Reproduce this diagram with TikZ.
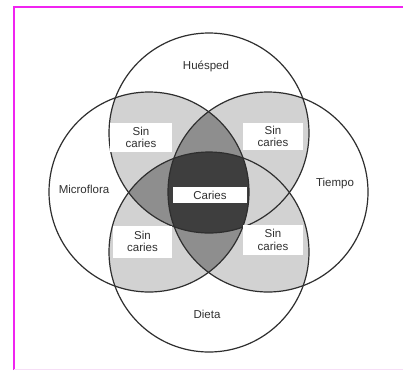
\documentclass[tikz,border=0pt]{standalone}
\usepackage{fontspec}
\setmainfont{Liberation Sans}
\definecolor{linecol}{HTML}{2E2E2E}
\definecolor{textcol}{HTML}{303030}
\definecolor{lightg}{HTML}{D2D2D2}
\definecolor{midg}{HTML}{8E8E8E}
\definecolor{darkg}{HTML}{3E3E3E}
\definecolor{pinkb}{HTML}{F024F0}
\definecolor{pinkf}{HTML}{F6DDF6}
\begin{document}
\begin{tikzpicture}[x=1pt,y=-1pt,
  ring/.style={draw=linecol, line width=1.2pt},
  lbl/.style={font=\fontsize{11.5}{12.5}\selectfont, text=textcol, inner sep=0pt},
  sinbox/.style={lbl, fill=white, align=center},
  frameline/.style={draw=pinkb, line width=2pt}]
\useasboundingbox (0,0) rectangle (403,370);
\fill[white] (0,0) rectangle (403,370);
% centres
\coordinate (H) at (209,133);
\coordinate (D) at (209,252);
\coordinate (M) at (149,192);
\coordinate (T) at (268,192);
\def\rr{100pt}
% exactly two circles: light grey
\begin{scope}\clip (H) circle[radius=\rr]; \fill[lightg] (M) circle[radius=\rr]; \fill[lightg] (T) circle[radius=\rr];\end{scope}
\begin{scope}\clip (D) circle[radius=\rr]; \fill[lightg] (M) circle[radius=\rr]; \fill[lightg] (T) circle[radius=\rr];\end{scope}
% three circles: medium grey
\begin{scope}\clip (H) circle[radius=\rr]; \clip (M) circle[radius=\rr]; \fill[midg] (T) circle[radius=\rr]; \fill[midg] (D) circle[radius=\rr];\end{scope}
\begin{scope}\clip (D) circle[radius=\rr]; \clip (M) circle[radius=\rr]; \fill[midg] (T) circle[radius=\rr]; \fill[midg] (H) circle[radius=\rr];\end{scope}
% four circles: dark
\begin{scope}\clip (H) circle[radius=\rr]; \clip (M) circle[radius=\rr]; \clip (T) circle[radius=\rr]; \fill[darkg] (D) circle[radius=\rr];\end{scope}
% outlines
\draw[ring] (H) circle[radius=\rr];
\draw[ring] (D) circle[radius=\rr];
\draw[ring] (M) circle[radius=\rr];
\draw[ring] (T) circle[radius=\rr];
% boxes
\node[sinbox, minimum width=62pt, minimum height=29pt] (s1) at (141,137.5) {Sin\\caries};
\node[sinbox, minimum width=60pt, minimum height=27pt] (s2) at (273,136.5) {Sin\\caries};
\node[sinbox, minimum width=59pt, minimum height=32pt] (s3) at (142.5,241.5) {Sin\\caries};
\node[sinbox, minimum width=60pt, minimum height=30pt] (s4) at (273,240) {Sin\\caries};
\node[lbl, fill=white, minimum width=74pt, minimum height=16pt] (car) at (210,195) {Caries};
% outer labels
\node[lbl] (hue) at (206,66) {Huésped};
\node[lbl] (mic) at (84,189) {Microflora};
\node[lbl] (tie) at (335,184) {Tiempo};
\node[lbl] (die) at (207,314) {Dieta};
% frame
\coordinate (f1) at (14,370);
\coordinate (f2) at (14,7);
\coordinate (f3) at (403,7);
\coordinate (f4) at (14,369);
\coordinate (f5) at (403,369);
\draw[frameline] (f1) -- (f2) -- (f3);
\draw[draw=pinkf, line width=1pt] (f4) -- (f5);
\end{tikzpicture}
\end{document}
